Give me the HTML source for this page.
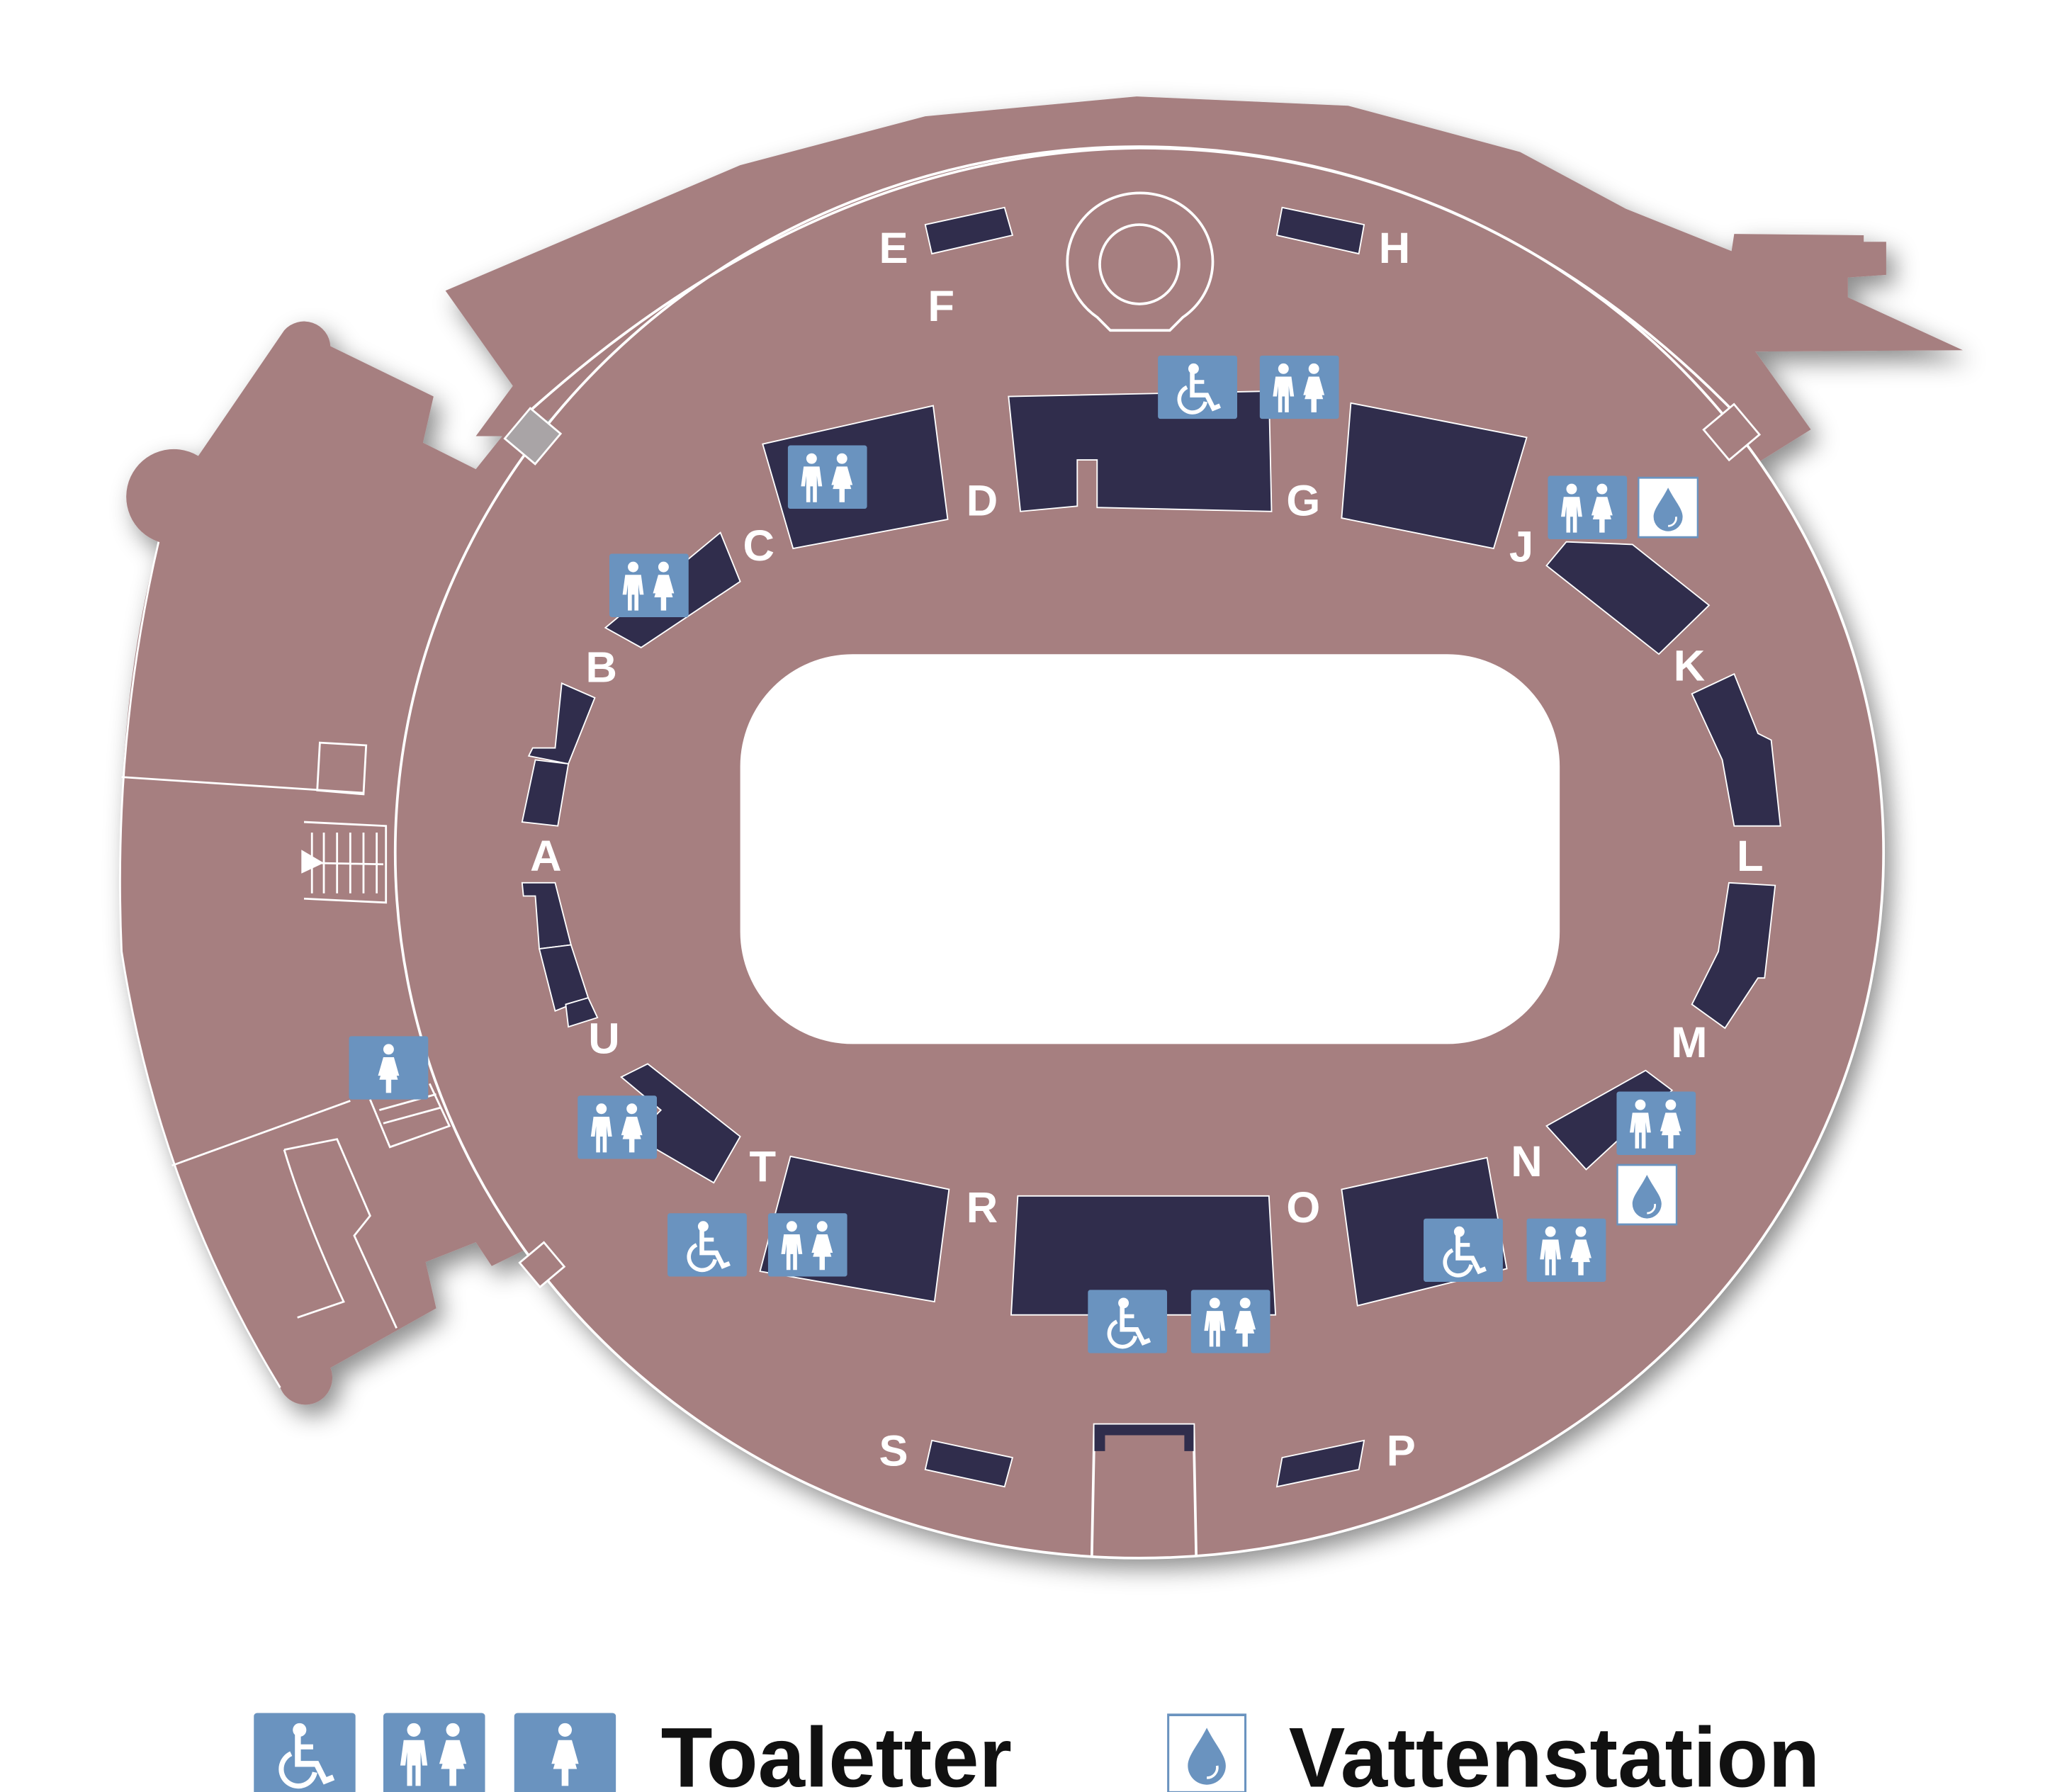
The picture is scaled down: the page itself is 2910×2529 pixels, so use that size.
<!DOCTYPE html>
<html><head><meta charset="utf-8"><style>
html,body{margin:0;padding:0;background:#fff;}
svg{display:block;}
text{font-family:"Liberation Sans",sans-serif;}
</style></head><body>
<svg width="2910" height="2529" viewBox="0 0 1560 1356" preserveAspectRatio="none" xmlns="http://www.w3.org/2000/svg">
<defs>
<filter id="sh" x="-10%" y="-10%" width="130%" height="130%">
<feDropShadow dx="6" dy="8" stdDeviation="9" flood-color="#000" flood-opacity="0.45"/>
</filter>
<symbol id="wc" viewBox="0 0 60 48">
<rect width="60" height="48" rx="2" fill="#6a93bf"/>
<circle cx="27" cy="10" r="4" fill="#fff"/>
<path d="M26 12 V30 H37 L42 40 L47 38" fill="none" stroke="#fff" stroke-width="3.5"/>
<path d="M27 20 H35" stroke="#fff" stroke-width="3"/>
<path d="M22 24 A10 10 0 1 0 36 35" fill="none" stroke="#fff" stroke-width="3"/>
</symbol>
<symbol id="man" viewBox="0 0 20 40">
<circle cx="10" cy="5" r="4" fill="#fff"/>
<path d="M4 11 H16 L18 26 H15 L14 18 V38 H11 V26 H9 V38 H6 V18 L5 26 H2 Z" fill="#fff"/>
</symbol>
<symbol id="wom" viewBox="0 0 20 40">
<circle cx="10" cy="5" r="4" fill="#fff"/>
<path d="M6 11 H14 L18 25 H16 L14 18 L17 28 H12 V38 H8 V28 H3 L6 18 L4 25 H2 Z" fill="#fff"/>
</symbol>
<symbol id="mw" viewBox="0 0 60 48">
<rect width="60" height="48" rx="2" fill="#6a93bf"/>
<use href="#man" x="8" y="5" width="20" height="40"/>
<use href="#wom" x="31" y="5" width="20" height="40"/>
</symbol>
<symbol id="w1" viewBox="0 0 60 48">
<rect width="60" height="48" rx="2" fill="#6a93bf"/>
<use href="#wom" x="20" y="5" width="20" height="40"/>
</symbol>
<symbol id="wat" viewBox="0 0 46 46">
<rect x="0.5" y="0.5" width="45" height="45" fill="#fff" stroke="#6a93bf" stroke-width="1.5"/>
<path d="M23 8 C18 18 12 24 12 30 A11 11 0 0 0 34 30 C34 24 28 18 23 8 Z" fill="#6a93bf"/>
<path d="M29 30 A6 6 0 0 1 23 37" fill="none" stroke="#fff" stroke-width="1.5"/>
</symbol>
</defs>

<g filter="url(#sh)" fill="#a67f80">
<path d="M120 410 A36 36 0 1 1 150 345 L215 250 A20 20 0 0 1 250 262 L328 300 L320 335 L360 355 L380 330 L430 330 L430 940 L405 942 L372 958 L360 940 L322 955 L330 990 L250 1035 A18 18 0 0 1 212 1050 Q120 900 92 720 Q85 540 120 410 Z"/>
<path d="M337 220 L560 125 L700 88 L860 73 L1020 80 L1150 115 L1230 158 L1310 190 L1312 177 L1410 178 L1410 183 L1427 183 L1427 208 L1398 210 L1398 225 L1485 265 L1328 266 L1370 325 L1330 350 L1100 220 L620 220 L388 330 L360 330 L388 292 Z"/>
<ellipse cx="862" cy="645" rx="563" ry="534"/>
</g>
<ellipse cx="862" cy="645" rx="563" ry="534" fill="none" stroke="#fff" stroke-width="2"/>
<path d="M402 310 Q620 115 862 112 Q1120 112 1318 318" fill="none" stroke="#fff" stroke-width="2"/>
<path d="M120 410 Q85 560 92 720 Q120 900 212 1050" fill="none" stroke="#fff" stroke-width="1.5"/>
<rect x="560" y="495" width="620" height="295" rx="85" fill="#fff"/>
<rect x="388" y="315" width="30" height="30" fill="#a9a4a6" stroke="#fff" stroke-width="1.5" transform="rotate(40 403 330)"/>
<rect x="1295" y="312" width="30" height="30" fill="#a67f80" stroke="#fff" stroke-width="1.5" transform="rotate(-40 1310 327)"/>
<rect x="398" y="945" width="24" height="24" fill="#a67f80" stroke="#fff" stroke-width="1.5" transform="rotate(-40 410 957)"/>
<g fill="none" stroke="#fff" stroke-width="1.5">
<path d="M92 588 L275 600"/>
<path d="M242 562 L277 564 L275 601 L240 598 Z"/>
<path d="M230 622 L292 625 L292 683 L230 680"/>
<path d="M236 630 L236 676 M236 653 L290 654 M245 630 L245 676 M255 630 L255 676 M265 630 L265 676 M275 630 L275 676 M285 630 L285 676"/>
<path d="M130 882 L265 833"/>
<path d="M215 870 L255 862 L280 920 L268 935 L300 1005 M215 870 Q230 920 260 985 L225 997"/>
<path d="M280 832 L295 868 L340 852 L325 820 M287 840 L330 828 M290 850 L334 838"/>
</g>
<polygon points="228,643 245,653 228,661" fill="#fff"/>
<path d="M830 240 A55 52 0 1 1 895 240 L885 250 L840 250 Z" fill="none" stroke="#fff" stroke-width="2"/>
<circle cx="862" cy="200" r="30" fill="none" stroke="#fff" stroke-width="2"/>
<path d="M826 1178 L828 1078 L903 1078 L905 1178" fill="none" stroke="#fff" stroke-width="2"/>
<path d="M828 1078 H903 V1098 H896 V1086 H836 V1098 H828 Z" fill="#302d4c"/>
<g fill="#302d4c" stroke="#fff" stroke-width="1">
<polygon points="700,170 760,157 766,178 705,192"/>
<polygon points="970,157 1032,170 1028,192 966,178"/>
<polygon points="705,1090 766,1103 760,1125 700,1112"/>
<polygon points="970,1103 1032,1090 1028,1112 966,1125"/>
<polygon points="577,336 706,307 717,393 600,415"/>
<polygon points="763,300 960,296 962,387 830,384 830,348 815,348 815,383 772,387"/>
<polygon points="1022,305 1155,331 1130,415 1015,392"/>
<polygon points="545,403 560,440 485,490 458,475"/>
<polygon points="1185,410 1235,412 1293,458 1255,495 1170,428"/>
<polygon points="425,517 450,528 430,578 400,572 403,566 420,566"/>
<polygon points="405,575 430,578 422,625 395,622"/>
<polygon points="395,668 420,668 432,715 408,718 405,678 396,678"/>
<polygon points="408,718 432,715 445,755 420,765"/>
<polygon points="428,760 445,755 452,770 430,777"/>
<polygon points="1280,525 1312,510 1330,555 1340,560 1347,625 1312,625 1303,575"/>
<polygon points="1308,668 1343,670 1335,740 1330,740 1305,778 1280,760 1300,720"/>
<polygon points="470,815 490,805 560,860 540,895 480,860 500,840"/>
<polygon points="1170,852 1245,810 1265,825 1200,885"/>
<polygon points="598,875 718,900 707,985 575,962"/>
<polygon points="770,905 960,905 965,995 765,995"/>
<polygon points="1015,900 1125,876 1140,960 1027,988"/>
</g>
<g fill="#fff" font-weight="bold" font-size="33" text-anchor="middle">
<text x="676" y="199">E</text><text x="712" y="243">F</text><text x="1055" y="199">H</text>
<text x="743" y="390">D</text><text x="986" y="390">G</text><text x="574" y="424">C</text>
<text x="1151" y="425">J</text><text x="455" y="516">B</text><text x="1278" y="515">K</text>
<text x="413" y="659">A</text><text x="1324" y="659">L</text><text x="457" y="797">U</text>
<text x="1278" y="800">M</text><text x="577" y="894">T</text><text x="1155" y="890">N</text>
<text x="743" y="925">R</text><text x="986" y="925">O</text><text x="676" y="1109">S</text>
<text x="1060" y="1109">P</text>
</g>
<use href="#wc" x="876" y="269" width="60" height="48"/>
<use href="#mw" x="953" y="269" width="60" height="48"/>
<use href="#mw" x="596" y="337" width="60" height="48"/>
<use href="#mw" x="461" y="419" width="60" height="48"/>
<use href="#mw" x="1171" y="360" width="60" height="48"/>
<use href="#wat" x="1239" y="360" width="46" height="48"/>
<use href="#w1" x="264" y="784" width="60" height="48"/>
<use href="#mw" x="437" y="829" width="60" height="48"/>
<use href="#wc" x="505" y="918" width="60" height="48"/>
<use href="#mw" x="581" y="918" width="60" height="48"/>
<use href="#wc" x="823" y="976" width="60" height="48"/>
<use href="#mw" x="901" y="976" width="60" height="48"/>
<use href="#wc" x="1077" y="922" width="60" height="48"/>
<use href="#mw" x="1155" y="922" width="60" height="48"/>
<use href="#mw" x="1223" y="826" width="60" height="48"/>
<use href="#wat" x="1223" y="880" width="46" height="48"/>
<use href="#wc" x="192" y="1296" width="77" height="62"/>
<use href="#mw" x="290" y="1296" width="77" height="62"/>
<use href="#w1" x="389" y="1296" width="77" height="62"/>
<use href="#wat" x="883" y="1296" width="60" height="62"/>
<text x="500" y="1352" font-size="64" font-weight="bold" fill="#111">Toaletter</text>
<text x="975" y="1352" font-size="64" font-weight="bold" fill="#111">Vattenstation</text>
</svg>
</body></html>
